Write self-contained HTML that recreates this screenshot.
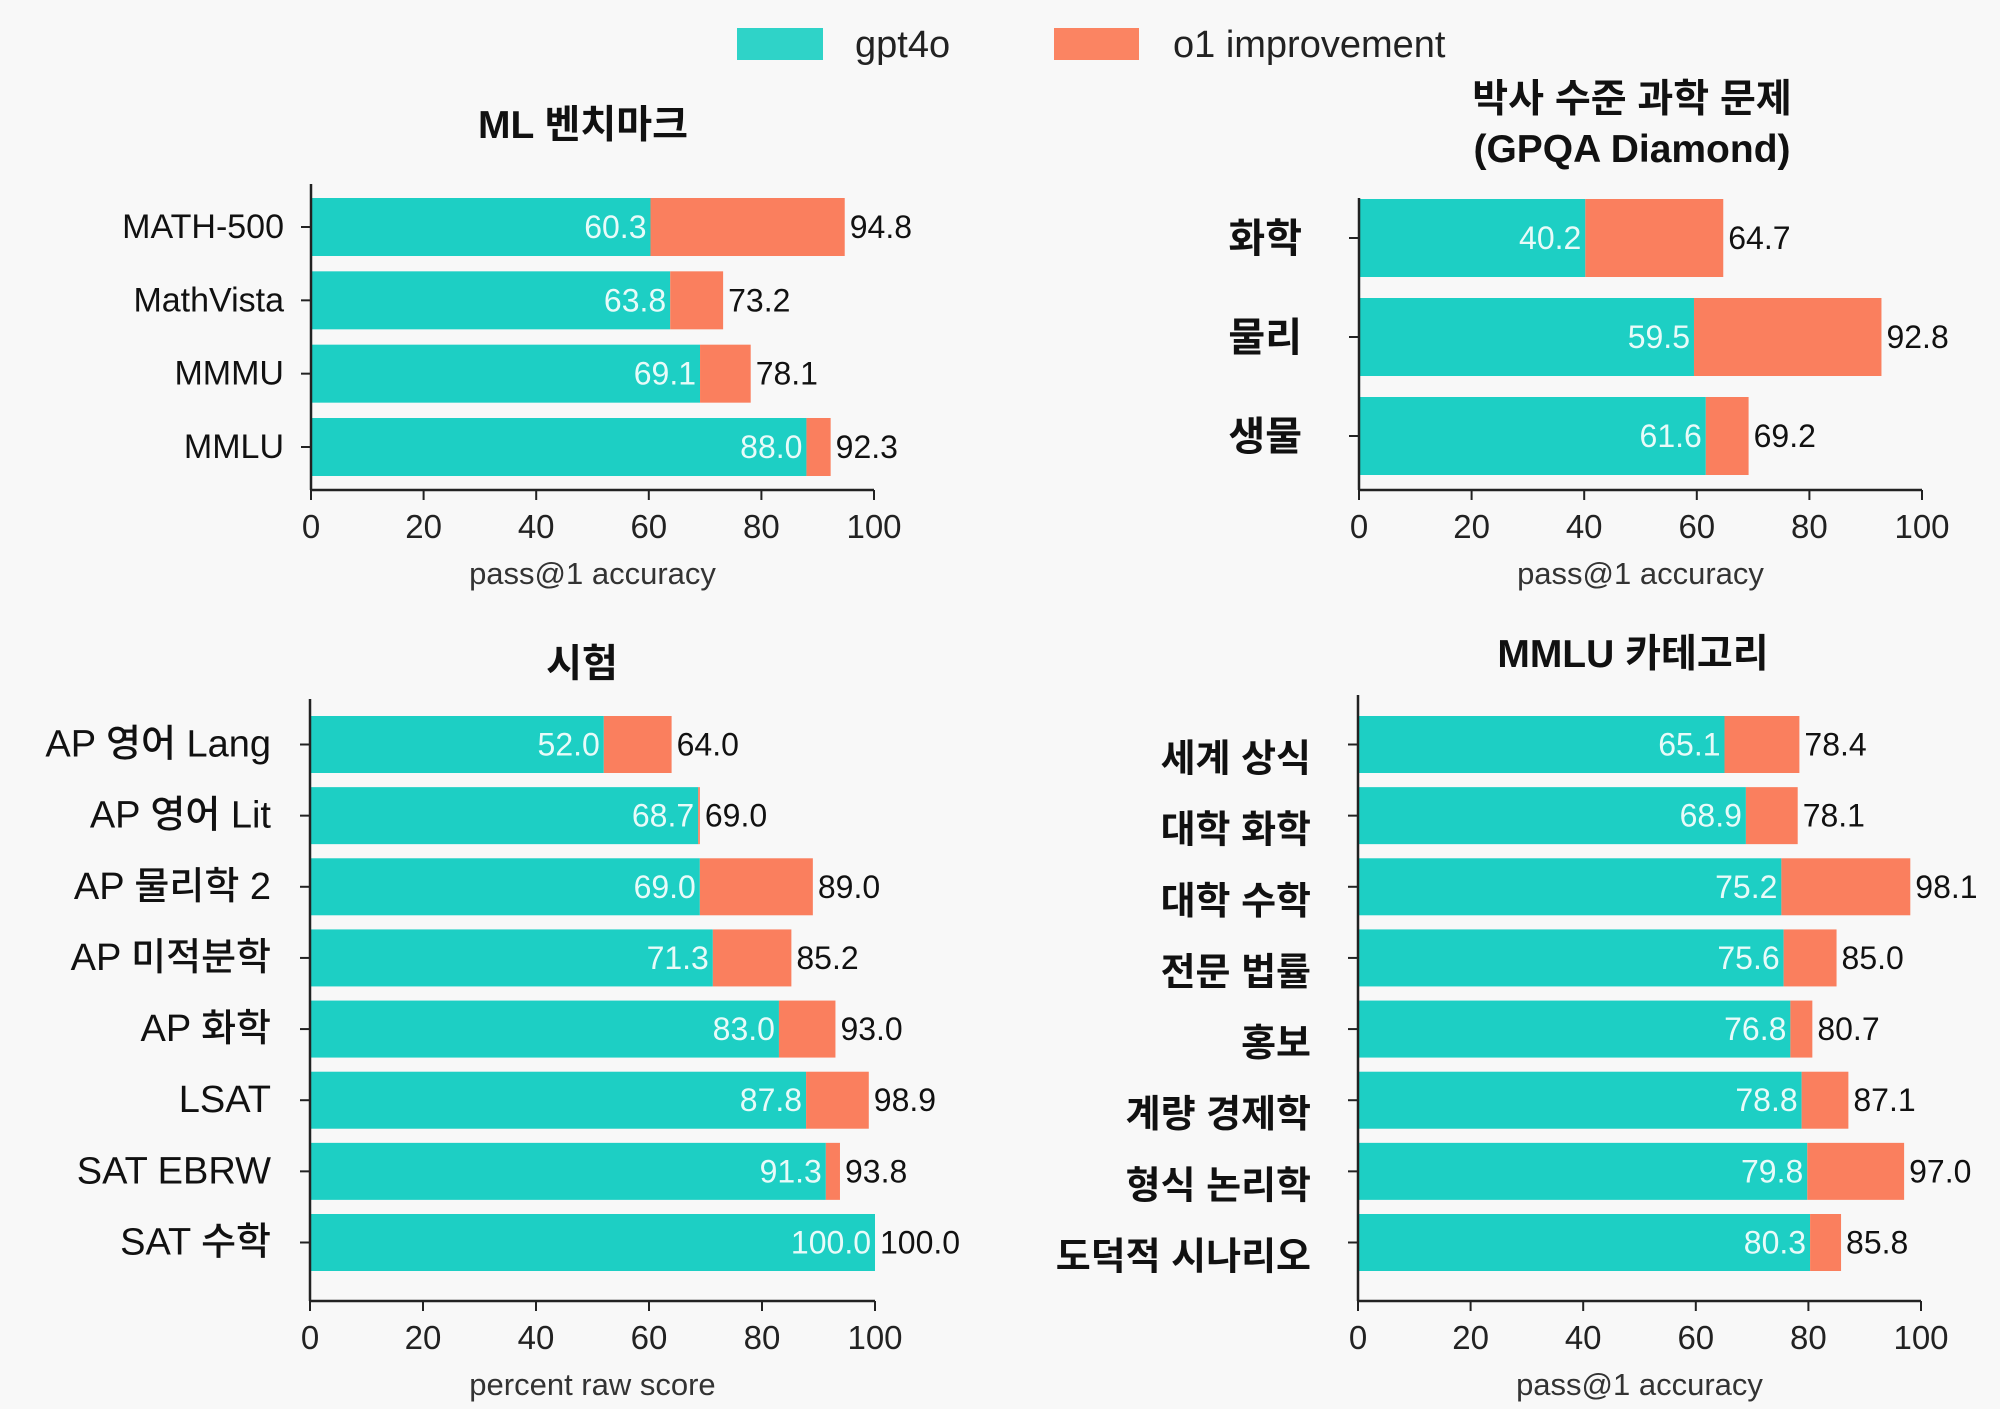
<!DOCTYPE html>
<html><head><meta charset="utf-8">
<style>
html,body{margin:0;padding:0;background:#f8f8f8;}
svg{display:block;font-family:"Liberation Sans","Noto Sans CJK KR",sans-serif;}
</style></head>
<body>
<svg id="chart" width="2000" height="1409" viewBox="0 0 2000 1409">
<rect x="0" y="0" width="2000" height="1409" fill="#f8f8f8"/>
<g>
  <rect x="737" y="28" width="86" height="32" fill="#2fd3c8"/>
  <text x="855" y="57" font-size="38" fill="#222">gpt4o</text>
  <rect x="1054" y="28" width="85" height="32" fill="#fb8462"/>
  <text x="1173" y="57" font-size="38" fill="#222">o1 improvement</text>
</g>
</svg>
<script>
// Panel 1: ML benchmarks
const mlCats = ["MATH-500","MathVista","MMMU","MMLU"];
const mlBase = [60.3,63.8,69.1,88.0];
const mlTotal = [94.8,73.2,78.1,92.3];
// Panel 2: GPQA Diamond
const gpqaCats = ["화학","물리","생물"];
const gpqaBase = [40.2,59.5,61.6];
const gpqaTotal = [64.7,92.8,69.2];
// Panel 3: exams
const examCats = ["AP 영어 Lang","AP 영어 Lit","AP 물리학 2","AP 미적분학","AP 화학","LSAT","SAT EBRW","SAT 수학"];
const examBase = [52.0,68.7,69.0,71.3,83.0,87.8,91.3,100.0];
const examTotal = [64.0,69.0,89.0,85.2,93.0,98.9,93.8,100.0];
// Panel 4: MMLU categories
const mmluCats = ["세계 상식","대학 화학","대학 수학","전문 법률","홍보","계량 경제학","형식 논리학","도덕적 시나리오"];
const mmluBase = [65.1,68.9,75.2,75.6,76.8,78.8,79.8,80.3];
const mmluTotal = [78.4,78.1,98.1,85.0,80.7,87.1,97.0,85.8];
const xTicks = [0,20,40,60,80,100];

const NS="http://www.w3.org/2000/svg";
const svg=document.getElementById('chart');
function mk(tag,attrs,parent,txt){const e=document.createElementNS(NS,tag);for(const k in attrs)e.setAttribute(k,attrs[k]);if(txt!==undefined)e.textContent=txt;parent.appendChild(e);return e;}

function panel(cfg,cats,base,total){
  const g=mk('g',{},svg);
  
  
  const xs=v=>cfg.x0+(cfg.x1-cfg.x0)*v/100;
  const n=cats.length;
  const pitch=(cfg.lastTop-cfg.firstTop)/(n-1||1);
  const yTop=i=>cfg.firstTop+i*pitch;
  cfg.title.forEach((t,k)=>{
    const tt=mk('text',{x:cfg.tx,y:cfg.ty+k*50,'font-size':39,'text-anchor':'middle',fill:'#111','font-weight':'bold'},g,t);
    
    
  });
  for(let i=0;i<n;i++){
    const y=yTop(i);
    const b=mk('rect',{x:xs(0),y:y,width:xs(base[i])-xs(0),height:cfg.bh,fill:'#1dcfc4'},g);
    
    
    const o=mk('rect',{x:xs(base[i]),y:y,width:Math.max(0,xs(total[i])-xs(base[i])),height:cfg.bh,fill:'#fa7f5e'},g);
    
    
    const cy=y+cfg.bh/2+11;
    const bl=mk('text',{x:xs(base[i])-4,y:cy,'font-size':32,'text-anchor':'end',fill:'#e8fbf9'},g,base[i].toFixed(1));
    
    
    const tl=mk('text',{x:xs(total[i])+5,y:cy,'font-size':32,fill:'#111'},g,total[i].toFixed(1));
    
    
    const tk=mk('line',{x1:cfg.x0-10,x2:cfg.x0-1,y1:y+cfg.bh/2,y2:y+cfg.bh/2,stroke:'#222','stroke-width':2},g);
    
    
    const cl=mk('text',{x:cfg.lx,y:y+cfg.bh/2+cfg.lOff,'font-size':cfg.lfs,'text-anchor':'end',fill:'#111','font-weight':cfg.lfw},g,cats[i]);
    
    
  }
  const ya=mk('line',{x1:cfg.x0,x2:cfg.x0,y1:cfg.axTop,y2:cfg.axY,stroke:'#222','stroke-width':2.5},g);
  
  
  const xa=mk('line',{x1:cfg.x0,x2:cfg.x1,y1:cfg.axY,y2:cfg.axY,stroke:'#222','stroke-width':2.5},g);
  
  
  xTicks.forEach(t=>{
    const l=mk('line',{x1:xs(t),x2:xs(t),y1:cfg.axY,y2:cfg.axY+10,stroke:'#222','stroke-width':2},g);
    
    
    const tl=mk('text',{x:xs(t),y:cfg.axY+48,'font-size':33,'text-anchor':'middle',fill:'#222'},g,String(t));
    
    
  });
  const xt=mk('text',{x:(cfg.x0+cfg.x1)/2,y:cfg.axY+94,'font-size':31,'text-anchor':'middle',fill:'#333'},g,cfg.xTitle);
  
  
}

panel({name:'panel-ml-benchmarks',x0:311,x1:874,firstTop:198,lastTop:418,bh:58,axTop:184,axY:490,
  title:['ML 벤치마크'],tx:583,ty:138,lx:284,lOff:11,lfs:34,lfw:'normal',xTitle:'pass@1 accuracy'},mlCats,mlBase,mlTotal);
panel({name:'panel-gpqa-diamond',x0:1359,x1:1922,firstTop:199,lastTop:397,bh:78,axTop:198,axY:490,
  title:['박사 수준 과학 문제','(GPQA Diamond)'],tx:1632,ty:112,lx:1302,lOff:14,lfs:40,lfw:'bold',xTitle:'pass@1 accuracy'},gpqaCats,gpqaBase,gpqaTotal);
panel({name:'panel-exams',x0:310,x1:875,firstTop:716,lastTop:1214,bh:57,axTop:699,axY:1301,
  title:['시험'],tx:582,ty:677,lx:271,lOff:12,lfs:38,lfw:'500',xTitle:'percent raw score'},examCats,examBase,examTotal);
panel({name:'panel-mmlu-categories',x0:1358,x1:1921,firstTop:716,lastTop:1214,bh:57,axTop:695,axY:1301,
  title:['MMLU 카테고리'],tx:1633,ty:667,lx:1311,lOff:27,lfs:38,lfw:'bold',xTitle:'pass@1 accuracy'},mmluCats,mmluBase,mmluTotal);
</script>
</body></html>
